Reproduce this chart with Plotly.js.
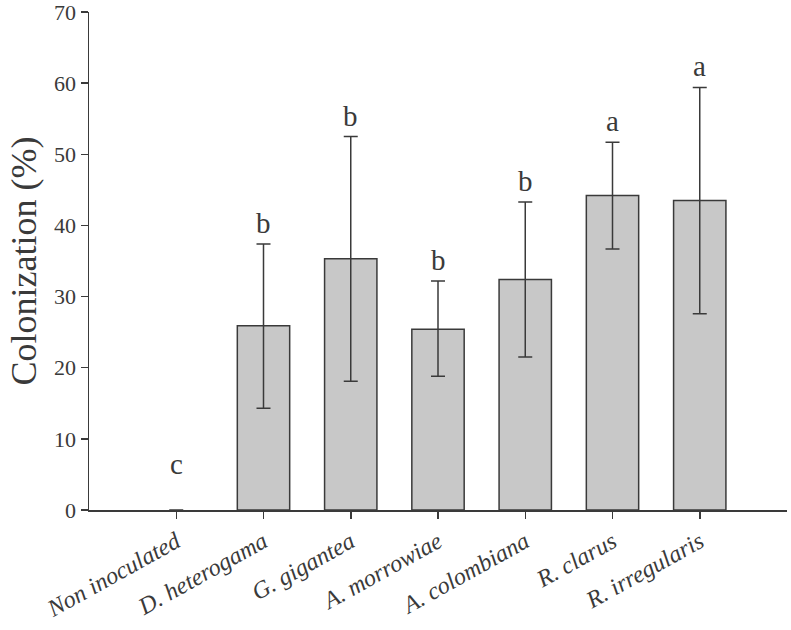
<!DOCTYPE html>
<html>
<head>
<meta charset="utf-8">
<script src="https://cdn.plot.ly/plotly-3.0.1.min.js"></script>
<style>
  html, body { margin: 0; padding: 0; background: #fff; }
  #chart { width: 791px; height: 630px; }
</style>
</head>
<body>
<div id="chart"></div>
<script>
// treatments on the x axis
const treatments = ['Non inoculated', 'D. heterogama', 'G. gigantea', 'A. morrowiae',
  'A. colombiana', 'R. clarus', 'R. irregularis'];
// mean colonization (%)
const colonization = [0, 25.9, 35.3, 25.4, 32.4, 44.2, 43.5];
// error bar extents (above / below the mean)
const errUpper = [0, 11.5, 17.2, 6.8, 10.9, 7.5, 15.9];
const errLower = [0, 11.6, 17.2, 6.6, 10.9, 7.5, 15.9];
// significance letters
const letters = ['c', 'b', 'b', 'b', 'b', 'a', 'a'];

const ink = '#3a3a3a';
const serif = 'Liberation Serif, Times New Roman, serif';

const bars = {
  x: treatments,
  y: colonization,
  type: 'bar',
  width: 0.6,
  marker: {
    color: '#c8c8c8',
    // no outline on the empty control bar
    line: { color: ink, width: colonization.map(v => v === 0 ? 0 : 1.5) }
  },
  error_y: {
    type: 'data',
    symmetric: false,
    array: errUpper.map((e, i) => colonization[i] === 0 ? null : e),
    arrayminus: errLower.map((e, i) => colonization[i] === 0 ? null : e),
    color: ink,
    thickness: 1.5,
    width: 7,
    visible: true
  },
  hoverinfo: 'x+y'
};

const annotations = treatments.map((t, i) => ({
  x: t,
  y: colonization[i] + errUpper[i],
  yshift: colonization[i] === 0 ? 28 : 3,
  text: letters[i],
  showarrow: false,
  yanchor: 'bottom',
  font: { family: serif, size: 29, color: ink }
}));

const layout = {
  width: 791,
  height: 630,
  margin: { l: 89, r: 4, t: 12, b: 120 },
  paper_bgcolor: '#fff',
  plot_bgcolor: '#fff',
  showlegend: false,
  font: { family: serif, color: ink },
  xaxis: {
    type: 'category',
    range: [-1, 7],
    tickangle: -29,
    ticks: 'outside',
    ticklen: 7,
    tickcolor: ink,
    tickwidth: 1.5,
    showline: true,
    linecolor: ink,
    linewidth: 1.5,
    showgrid: false,
    zeroline: false,
    tickfont: { family: serif, size: 24, color: ink, style: 'italic' }
  },
  yaxis: {
    range: [0, 70],
    dtick: 10,
    ticks: 'outside',
    ticklen: 7,
    tickcolor: ink,
    tickwidth: 1.5,
    showline: true,
    linecolor: ink,
    linewidth: 1.5,
    showgrid: false,
    zeroline: false,
    ticklabeloverflow: 'allow',
    tickfont: { family: serif, size: 22, color: ink },
    title: { text: 'Colonization (%)', font: { family: serif, size: 36, color: ink }, standoff: 6 }
  },
  annotations: annotations
};

Plotly.newPlot('chart', [bars], layout, { displayModeBar: false, staticPlot: true });
</script>
</body>
</html>
